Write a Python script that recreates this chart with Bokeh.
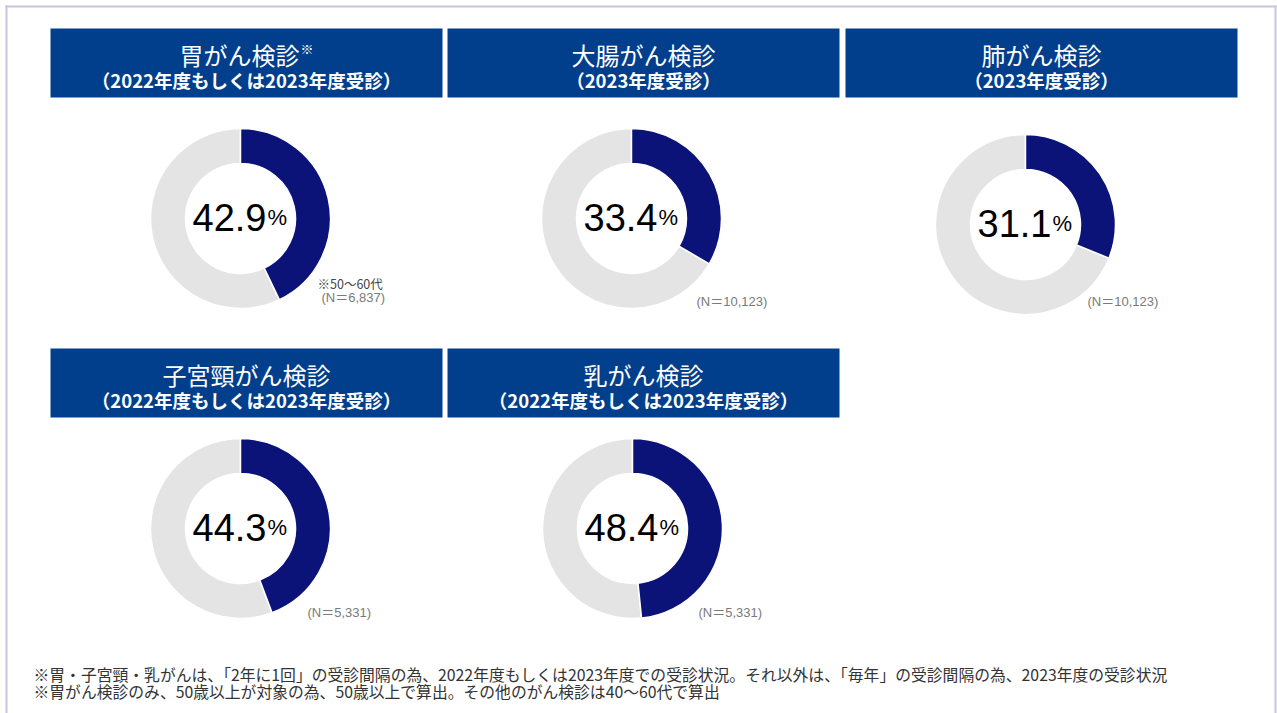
import math
from bokeh.plotting import figure
from bokeh.models import Range1d, ColumnDataSource
from bokeh.core.properties import value
from bokeh.embed import file_html
from bokeh.resources import INLINE

# ---------------- data ----------------
titles = ["胃がん検診", "大腸がん検診", "肺がん検診", "子宮頸がん検診", "乳がん検診"]
title_marks = ["※", "", "", "", ""]
subtitles = ["（2022年度もしくは2023年度受診）", "（2023年度受診）", "（2023年度受診）",
             "（2022年度もしくは2023年度受診）", "（2022年度もしくは2023年度受診）"]
rates = [42.9, 33.4, 31.1, 44.3, 48.4]          # 受診率 (%)
sample_sizes = ["6,837", "10,123", "10,123", "5,331", "5,331"]
age_notes = ["※50〜60代", "", "", "", ""]
footnotes = [
    "※胃・子宮頸・乳がんは、「2年に1回」の受診間隔の為、2022年度もしくは2023年度での受診状況。それ以外は、「毎年」の受診間隔の為、2023年度の受診状況",
    "※胃がん検診のみ、50歳以上が対象の為、50歳以上で算出。その他のがん検診は40〜60代で算出",
]

# ---------------- layout (picture pixels) ----------------
W, H = 1277, 713
def X(px): return px
def Y(py): return H - py

header_tl = [(50, 28), (447, 28), (845, 28), (50, 348), (447, 348)]
header_w, header_h = 392, 69
donut_c = [(240, 218), (631, 218), (1025, 224), (240, 528), (632, 528)]
n_pos = [(321, 297), (696, 301), (1087, 301), (307, 612), (698, 612)]
note_pos = [(317, 283), None, None, None, None]
R_OUT, R_IN = 90, 55

HEADER = "#013e8b"
NAVY = "#0b1379"
GRAY = "#e4e4e4"
BORDER = "#c7c4e0"
JP = value("Noto Sans CJK JP")
NUMF = value("Liberation Sans")

p = figure(width=W, height=H, output_backend="svg", toolbar_location=None,
           x_range=Range1d(0, W), y_range=Range1d(0, H),
           x_axis_type=None, y_axis_type=None, min_border=0)
p.outline_line_color = None
p.grid.visible = False
p.background_fill_color = "white"
p.border_fill_color = "white"

# outer frame (left, top, right)
p.multi_line(xs=[[X(6), X(6)], [X(5), X(1276)], [X(1275), X(1275)]],
             ys=[[0, Y(5)], [Y(6), Y(6)], [Y(5), 0]],
             line_color=BORDER, line_width=2)

# header boxes
hx = [X(x) + header_w / 2 for x, y in header_tl]
hy = [Y(y) - header_h / 2 for x, y in header_tl]
p.rect(x=hx, y=hy, width=header_w, height=header_h, fill_color=HEADER, line_color=None)

# titles
TS = 24
tsrc = ColumnDataSource(dict(
    x=[X(x) + header_w / 2 - (7 if m else 0) for (x, y), m in zip(header_tl, title_marks)],
    y=[Y(y) - 26 for x, y in header_tl], text=titles))
p.text(x="x", y="y", text="text", source=tsrc, text_font=JP, text_font_size=f"{TS}px",
       text_color="white", text_align="center", text_baseline="middle")
msrc = ColumnDataSource(dict(
    x=[X(x) + header_w / 2 - 7 + len(t) * TS / 2 + 1 for (x, y), t, m in zip(header_tl, titles, title_marks) if m],
    y=[Y(y) - 20 for (x, y), m in zip(header_tl, title_marks) if m],
    text=[m for m in title_marks if m]))
p.text(x="x", y="y", text="text", source=msrc, text_font=JP, text_font_size="13px",
       text_color="white", text_align="left", text_baseline="middle")
ssrc = ColumnDataSource(dict(x=hx, y=[Y(y) - 51 for x, y in header_tl], text=subtitles))
p.text(x="x", y="y", text="text", source=ssrc, text_font=JP, text_font_size="18.5px",
       text_font_style="bold", text_color="white", text_align="center", text_baseline="middle")

# donuts
cx = [X(x) for x, y in donut_c]
cy = [Y(y) for x, y in donut_c]
start = [math.pi / 2] * len(rates)
split = [math.pi / 2 - 2 * math.pi * r / 100 for r in rates]
end = [math.pi / 2 - 2 * math.pi] * len(rates)
p.annular_wedge(x=cx, y=cy, inner_radius=R_IN, outer_radius=R_OUT,
                start_angle=split, end_angle=end, direction="clock",
                fill_color=GRAY, line_color="white", line_width=1.5)
p.annular_wedge(x=cx, y=cy, inner_radius=R_IN, outer_radius=R_OUT,
                start_angle=start, end_angle=split, direction="clock",
                fill_color=NAVY, line_color="white", line_width=1.5)

# percentage labels
numsrc = ColumnDataSource(dict(x=[c + 26 for c in cx], y=[c + 1 for c in cy],
                               text=[f"{r:.1f}" for r in rates]))
p.text(x="x", y="y", text="text", source=numsrc, text_font=NUMF, text_font_size="38px",
       text_color="black", text_align="right", text_baseline="alphabetic")
pctsrc = ColumnDataSource(dict(x=[c + 27 for c in cx], y=[c + 1 for c in cy],
                               text=["%"] * len(rates)))
p.text(x="x", y="y", text="text", source=pctsrc, text_font=NUMF, text_font_size="22px",
       text_color="black", text_align="left", text_baseline="alphabetic")

# N labels
nsrc = ColumnDataSource(dict(x=[X(x) for x, y in n_pos], y=[Y(y) for x, y in n_pos],
                             text=[f"(N＝{n})" for n in sample_sizes]))
p.text(x="x", y="y", text="text", source=nsrc, text_font=value("Liberation Sans, Noto Sans CJK JP"),
       text_font_size="13px", text_color="#7a7a7a", text_align="left", text_baseline="middle")
asrc = ColumnDataSource(dict(
    x=[X(pos[0]) for pos, a in zip(note_pos, age_notes) if a],
    y=[Y(pos[1]) for pos, a in zip(note_pos, age_notes) if a],
    text=[a for a in age_notes if a]))
p.text(x="x", y="y", text="text", source=asrc, text_font=JP, text_font_size="12.5px",
       text_color="#444444", text_align="left", text_baseline="middle")

# footnotes
fsrc = ColumnDataSource(dict(x=[X(33)] * len(footnotes),
                             y=[Y(673.5 + 17 * i) for i in range(len(footnotes))], text=footnotes))
p.text(x="x", y="y", text="text", source=fsrc, text_font=JP, text_font_size="15.8px",
       text_color="#333333", text_align="left", text_baseline="middle")

open("out.html", "w").write(file_html(p, INLINE))
